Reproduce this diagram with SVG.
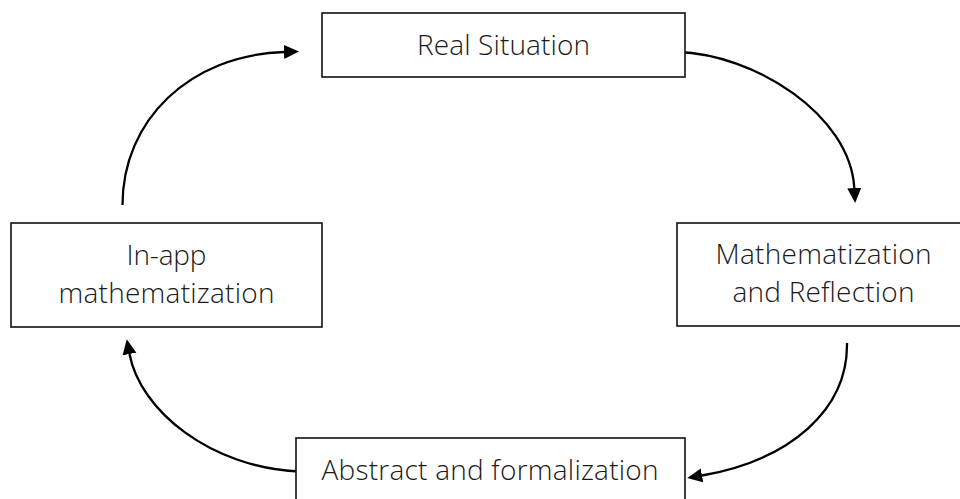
<svg xmlns="http://www.w3.org/2000/svg" width="960" height="499" viewBox="0 0 960 499">
  <style>
    .box { fill: #ffffff; stroke: #111111; stroke-width: 1.6; }
    .label { font-family: "Open Sans", "Liberation Sans", sans-serif; font-weight: 300; font-size: 28px; fill: #1a1a1a; text-anchor: middle; }
    .link { fill: none; stroke: #000000; stroke-width: 2.3; }
  </style>
  <defs>
    <marker id="arrow" markerUnits="userSpaceOnUse" markerWidth="16" markerHeight="15" refX="0" refY="7" orient="auto">
      <path d="M0,0 L15,7 L0,14 z" fill="#000000"/>
    </marker>
  </defs>

  <rect width="960" height="499" fill="#ffffff"/>

  <!-- cycle connectors -->
  <g id="connectors">
    <path class="link" d="M122.5,205 C122.5,120 190,55 284,52" marker-end="url(#arrow)"/>
    <path class="link" d="M677,52 C755,54 850,115 854.3,188" marker-end="url(#arrow)"/>
    <path class="link" d="M847,343 C848,410 790,460 702,475.5" marker-end="url(#arrow)"/>
    <path class="link" d="M300,471.5 C210,468 140,410 129.5,354" marker-end="url(#arrow)"/>
  </g>

  <g id="real-situation">
    <rect class="box" x="322" y="13" width="363" height="64"/>
    <text class="label" x="503.5" y="55" textLength="173">Real Situation</text>
  </g>

  <g id="mathematization-reflection">
    <rect class="box" x="677" y="223" width="293" height="103"/>
    <text class="label" x="823.5" y="264" textLength="216">Mathematization</text>
    <text class="label" x="823.5" y="302" textLength="182">and Reflection</text>
  </g>

  <g id="abstract-formalization">
    <rect class="box" x="296" y="438" width="389" height="64"/>
    <text class="label" x="490" y="480" textLength="337">Abstract and formalization</text>
  </g>

  <g id="in-app-mathematization">
    <rect class="box" x="11" y="223" width="311" height="104"/>
    <text class="label" x="166.5" y="265" textLength="80">In-app</text>
    <text class="label" x="166.5" y="303" textLength="216">mathematization</text>
  </g>
</svg>
